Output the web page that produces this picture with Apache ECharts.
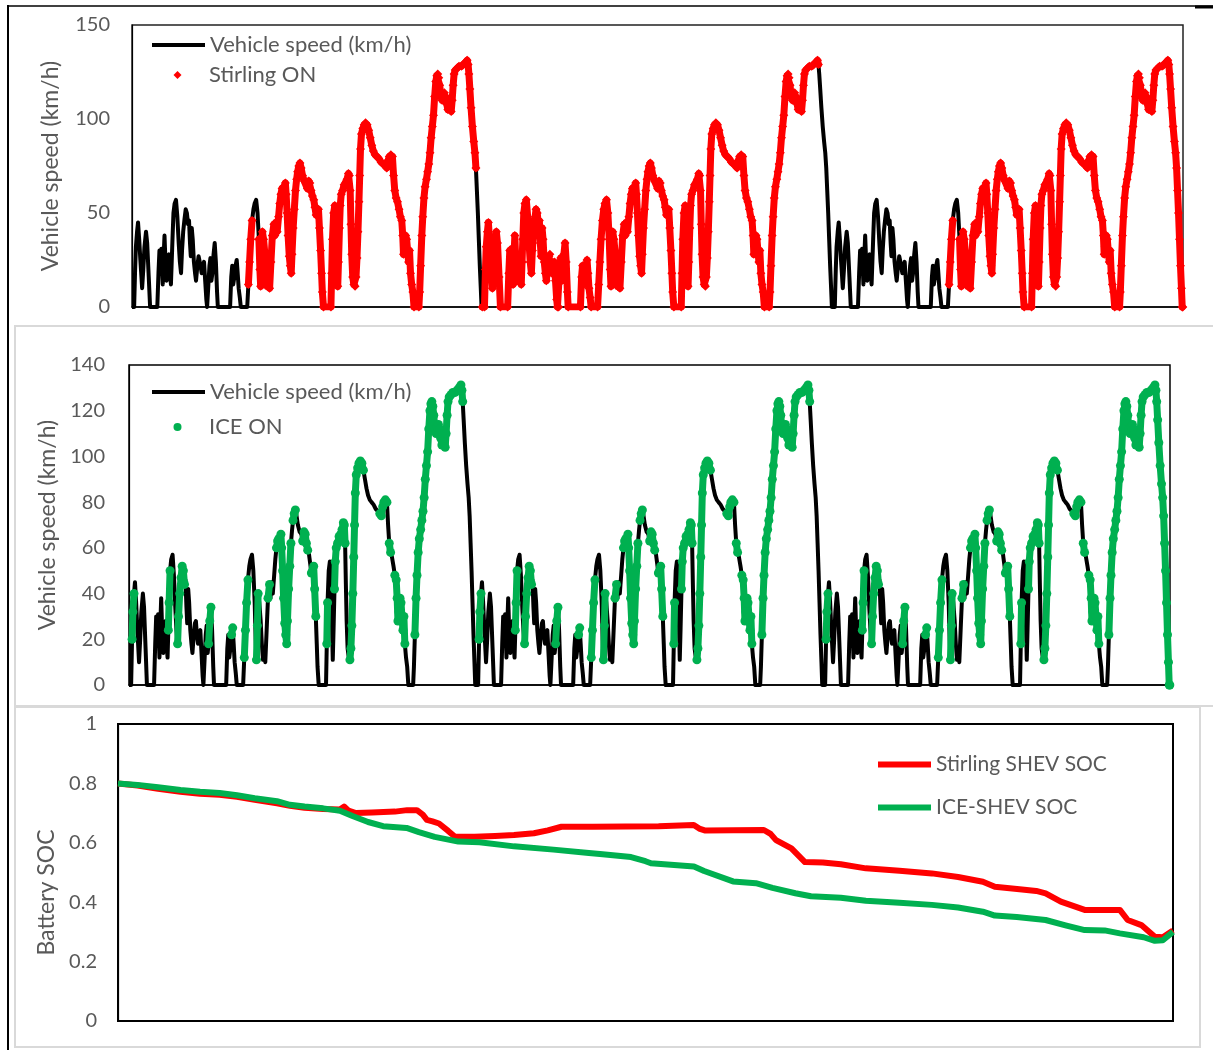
<!DOCTYPE html>
<html>
<head>
<meta charset="utf-8">
<script src="https://cdn.jsdelivr.net/npm/echarts@6/dist/echarts.min.js"></script>
<style>
  html, body { margin: 0; padding: 0; background: #ffffff; }
  #chart { width: 1213px; height: 1050px; }
</style>
</head>
<body>
<div id="chart"></div>
<script>
// One driving cycle (time in s, vehicle speed in km/h); the test repeats it three times.
const cycleSeconds = 1800;
const cycleCount = 3;
const cycleT = [
  0, 11, 16, 20, 26, 31, 37, 43, 52, 58, 64, 72, 78, 86, 93,
  130, 136, 141, 146, 151, 158, 163, 167, 172, 178, 184, 190, 195, 200, 204,
  208, 213, 219, 226, 233, 240, 246, 252, 257, 263, 270, 276, 282, 288, 293,
  298, 302, 307, 312, 318, 324, 329, 336, 342, 347, 352, 358, 364, 370, 376,
  382, 386, 392, 398, 403, 408, 413, 419, 425, 431, 437, 441,
  504, 510, 515, 520, 526, 532, 538, 543, 548, 554, 559, 592,
  598, 604, 610, 617, 624, 630, 638, 645, 652, 657, 661, 666, 670, 676, 683,
  689, 695, 701, 707, 714, 721, 729, 734, 739, 746, 753, 759, 765, 771, 777,
  783, 788, 792, 797, 802, 808, 813, 818, 822, 828, 834, 840, 846, 851, 857,
  863, 869, 876, 885, 894, 901, 908, 914, 920, 927, 934, 940, 946, 952, 958,
  963, 969, 974, 978, 984, 1022,
  1026, 1030, 1036, 1042, 1047, 1052, 1057, 1061, 1066, 1070, 1075, 1082, 1090, 1098, 1105,
  1112, 1117, 1121, 1125, 1129, 1134, 1140, 1146, 1151, 1156, 1161, 1166, 1170, 1174, 1179,
  1186, 1193, 1200, 1208, 1216, 1224, 1232, 1240, 1249, 1258, 1268, 1280, 1292, 1301, 1309,
  1316, 1322, 1330, 1338, 1344, 1350, 1357, 1364, 1372, 1379, 1386, 1391, 1395, 1400, 1406,
  1411, 1416, 1421, 1426, 1431, 1437, 1443, 1449, 1474,
  1478, 1483, 1489, 1494, 1500, 1506, 1513, 1519, 1525, 1531, 1537, 1543, 1549, 1555, 1561,
  1566, 1571, 1576, 1581, 1587, 1593, 1599, 1605, 1611, 1617, 1623, 1629, 1635, 1640, 1645,
  1650, 1655, 1661, 1670, 1680, 1692, 1702, 1712, 1722, 1727, 1731, 1736, 1742, 1749, 1756,
  1762, 1767, 1772, 1777, 1782, 1787, 1792, 1796, 1799
];
const cycleV = [
  0, 0, 20, 32, 40, 45, 36, 25, 10, 20, 32, 40, 34, 16, 0,
  0, 18, 30, 26, 31, 12, 28, 38, 24, 14, 24, 28, 18, 12, 24,
  36, 50, 55, 57, 48, 34, 24, 18, 30, 40, 47, 52, 50, 44, 46,
  34, 27, 42, 36, 24, 18, 14, 22, 27, 28, 22, 18, 22, 24, 14,
  4, 0, 0, 22, 26, 14, 18, 28, 34, 24, 8, 0,
  0, 16, 22, 12, 16, 22, 25, 18, 10, 5, 0, 0,
  12, 24, 36, 46, 52, 55, 57, 50, 36, 20, 11, 26, 40, 36, 28,
  18, 11, 16, 10, 24, 38, 44, 38, 45, 40, 48, 55, 60, 63, 64,
  62, 66, 60, 50, 38, 27, 22, 18, 28, 42, 52, 62, 68, 72, 75,
  76.6, 74, 70, 67, 66, 63, 67, 66, 62, 59, 57, 53, 49, 50, 52,
  42, 30, 18, 8, 0, 0,
  18, 36, 50, 54, 48, 30, 11, 24, 42, 54, 60, 62, 65, 66, 68,
  71, 70, 62, 44, 28, 16, 12, 11, 16, 26, 40, 56, 70, 84, 92,
  95, 97, 98, 97, 94, 90, 86, 83, 81, 80, 79, 77, 76, 75, 74,
  78, 80, 81, 80, 70, 62, 58, 56, 52, 48, 46, 38, 28, 32, 38,
  36, 30, 24, 30, 18, 12, 8, 0, 0,
  8, 22, 38, 48, 58, 64, 68, 72, 76, 82, 90, 96, 102, 112, 120,
  123, 124, 122, 118, 112, 110, 113, 114, 112, 108, 105, 110, 106, 104, 110,
  118, 124, 126, 127, 128, 128, 129, 130, 131.3, 129, 124, 116, 106, 96, 88,
  82, 74, 62, 50, 36, 22, 10, 0, 0
];

// Stirling engine running (absolute time windows, s)
const stirlingOn = [[595, 620], [649, 1767], [1800, 3528], [4195, 4220], [4249, 5400]];
// ICE running within each cycle (s from cycle start), plus the extra-high phase of each cycle
const iceOnCycle = [
  [14, 27], [203, 216], [250, 292], [413, 426], [530, 540], [596, 618], [658, 672],
  [716, 730], [760, 842], [850, 866], [900, 928], [944, 970], [1024, 1032], [1062, 1122],
  [1145, 1218], [1300, 1340], [1348, 1360], [1375, 1436]
];
const iceOnExtraHigh = [[1482, 1735], [3282, 3535], [5082, 5400]];

// Battery state of charge
const stirlingSocT = [0, 100, 205, 320, 420, 520, 609, 700, 814, 880, 955, 1050, 1136, 1157, 1180,
  1218, 1300, 1418, 1480, 1530, 1560, 1581, 1610, 1643, 1690, 1725, 1825, 1930, 2027, 2129,
  2200, 2270, 2431, 2600, 2767, 2947, 2975, 3007, 3150, 3306, 3340, 3368, 3447, 3516, 3608,
  3700, 3828, 4000, 4166, 4300, 4427, 4488, 4627, 4700, 4748, 4826, 4948, 5128, 5168, 5238,
  5307, 5348, 5400];
const stirlingSoc = [0.800, 0.793, 0.782, 0.772, 0.765, 0.762, 0.755, 0.745, 0.733, 0.725, 0.718, 0.714, 0.712, 0.722, 0.708,
  0.700, 0.702, 0.705, 0.710, 0.710, 0.695, 0.677, 0.672, 0.665, 0.640, 0.620, 0.620, 0.623, 0.626, 0.632,
  0.642, 0.654, 0.654, 0.655, 0.656, 0.660, 0.648, 0.641, 0.642, 0.643, 0.630, 0.609, 0.581, 0.535, 0.534,
  0.528, 0.514, 0.506, 0.497, 0.485, 0.469, 0.452, 0.443, 0.438, 0.430, 0.402, 0.374, 0.374, 0.340, 0.323,
  0.284, 0.282, 0.305];
const iceSocT = [0, 100, 205, 320, 420, 520, 609, 700, 814, 880, 955, 1050, 1136, 1200, 1280,
  1357, 1477, 1540, 1621, 1742, 1850, 2027, 2229, 2410, 2467, 2626, 2700, 2728, 2948, 3000,
  3148, 3265, 3350, 3467, 3547, 3700, 3828, 4000, 4166, 4300, 4427, 4488, 4600, 4748, 4850,
  4948, 5050, 5128, 5250, 5307, 5348, 5400];
const iceSoc = [0.800, 0.795, 0.787, 0.778, 0.772, 0.768, 0.760, 0.750, 0.740, 0.728, 0.722, 0.716, 0.708, 0.690, 0.670,
  0.656, 0.650, 0.636, 0.620, 0.604, 0.602, 0.588, 0.577, 0.566, 0.562, 0.552, 0.538, 0.531, 0.520, 0.505,
  0.470, 0.464, 0.448, 0.430, 0.420, 0.415, 0.405, 0.398, 0.391, 0.382, 0.368, 0.355, 0.350, 0.340, 0.322,
  0.306, 0.305, 0.295, 0.282, 0.270, 0.272, 0.300];

// Axis ticks
const speedTicksTop = { min: 0, max: 150, interval: 50 };
const speedTicksMid = { min: 0, max: 140, interval: 20 };
const socTicks = { min: 0, max: 1, interval: 0.2 };

// ---- build series data ----
const speed = [];
for (let k = 0; k < cycleCount; k++) {
  for (let i = 0; i < cycleT.length; i++) speed.push([cycleT[i] + k * cycleSeconds, cycleV[i]]);
}
const iceOn = [];
for (let k = 0; k < cycleCount; k++) {
  iceOnCycle.forEach(r => iceOn.push([r[0] + k * cycleSeconds, r[1] + k * cycleSeconds]));
}
iceOnExtraHigh.forEach(r => iceOn.push(r));

const within = (t, ranges) => ranges.some(r => t >= r[0] && t <= r[1]);
const stirlingPts = speed.map(p => within(p[0], stirlingOn) ? p : [p[0], '-']);
const icePts = speed.map(p => within(p[0], iceOn) ? p : [p[0], '-']);
const stirlingSocPts = stirlingSocT.map((t, i) => [t, stirlingSoc[i]]);
const iceSocPts = iceSocT.map((t, i) => [t, iceSoc[i]]);

const totalT = cycleSeconds * cycleCount;
const GREY = '#595959';
const FONT = 'Lato';
const tickFont = { color: GREY, fontSize: 20, fontFamily: FONT };
const nameFont = { color: GREY, fontSize: 23, fontFamily: FONT };

function xAxis(gridIndex) {
  return {
    gridIndex, type: 'value', min: 0, max: totalT,
    axisLine: { show: true, onZero: false, lineStyle: { color: '#000', width: 1.5 } },
    axisTick: { show: false }, axisLabel: { show: false }, splitLine: { show: false }
  };
}
function yAxis(gridIndex, ticks, name, margin, nameGap, namePad) {
  return {
    gridIndex, type: 'value', min: ticks.min, max: ticks.max, interval: ticks.interval,
    axisLine: { show: true, lineStyle: { color: '#000', width: 1.2 } },
    axisTick: { show: false }, splitLine: { show: false },
    axisLabel: Object.assign({ margin }, tickFont),
    name, nameLocation: 'middle', nameRotate: 90, nameGap,
    nameTextStyle: Object.assign({ padding: namePad }, nameFont)
  };
}
function legend(left, top, fontSize, item) {
  return {
    left, top, padding: 0, orient: 'vertical', itemWidth: 53, itemHeight: 10,
    textStyle: { color: GREY, fontSize, fontFamily: FONT }, data: [item], selectedMode: false
  };
}

const chart = echarts.init(document.getElementById('chart'), null, { renderer: 'canvas' });
chart.setOption({
  animation: false,
  backgroundColor: '#ffffff',
  graphic: [
    { type: 'rect', shape: { x: 15, y: 326, width: 1210, height: 380 }, style: { fill: 'none', stroke: '#d9d9d9', lineWidth: 2 }, z: -1 },
    { type: 'rect', shape: { x: 15, y: 707, width: 1185, height: 340 }, style: { fill: 'none', stroke: '#d9d9d9', lineWidth: 2 }, z: -1 },
    { type: 'line', shape: { x1: 8, y1: 6, x2: 1213, y2: 6 }, style: { stroke: '#000', lineWidth: 1.5 } },
    { type: 'line', shape: { x1: 1195, y1: 7, x2: 1213, y2: 7 }, style: { stroke: '#000', lineWidth: 3 } },
    { type: 'line', shape: { x1: 8, y1: 5, x2: 8, y2: 1050 }, style: { stroke: '#000', lineWidth: 2 } }
  ],
  grid: [
    { left: 132, top: 25, width: 1051, height: 282, show: true, borderColor: '#222', borderWidth: 1.5 },
    { left: 129, top: 365, width: 1041, height: 320, show: true, borderColor: '#000', borderWidth: 1.5 },
    { left: 118, top: 724, width: 1055, height: 297, show: true, borderColor: '#000', borderWidth: 2 }
  ],
  xAxis: [xAxis(0), xAxis(1), xAxis(2)],
  yAxis: [
    yAxis(0, speedTicksTop, 'Vehicle speed (km/h)', 22, 70, [0, 0, 0, 0]),
    yAxis(1, speedTicksMid, 'Vehicle speed (km/h)', 24, 70, [0, 0, 0, 0]),
    yAxis(2, socTicks, 'Battery SOC', 21, 58, [0, 40, 0, 0])
  ],
  legend: [
    legend(150, 34, 22, { name: 'Vehicle speed (km/h)', itemStyle: { opacity: 0 }, lineStyle: { width: 4, color: '#000' } }),
    legend(150, 64, 22, { name: 'Stirling ON', lineStyle: { opacity: 0 } }),
    legend(150, 381, 22, { name: 'Vehicle speed (km/h)', itemStyle: { opacity: 0 }, lineStyle: { width: 4, color: '#000' } }),
    legend(150, 416, 22, { name: 'ICE ON', lineStyle: { opacity: 0 } }),
    legend(875, 754, 21, { name: 'Stirling SHEV SOC', itemStyle: { opacity: 0 }, lineStyle: { width: 6, color: '#ff0000' } }),
    legend(875, 797, 21, { name: 'ICE-SHEV SOC', itemStyle: { opacity: 0 }, lineStyle: { width: 6, color: '#00b050' } })
  ],
  series: [
    {
      name: 'Vehicle speed (km/h)', type: 'line', xAxisIndex: 0, yAxisIndex: 0, data: speed,
      symbol: 'none', color: '#000', lineStyle: { color: '#000', width: 4, join: 'round' }, z: 2
    },
    {
      name: 'Stirling ON', type: 'line', xAxisIndex: 0, yAxisIndex: 0, data: stirlingPts,
      symbol: 'diamond', symbolSize: 9, showSymbol: true, showAllSymbol: true, color: '#ff0000',
      itemStyle: { color: '#ff0000' }, lineStyle: { color: '#ff0000', width: 7, join: 'round', cap: 'round' }, z: 3
    },
    {
      name: 'Vehicle speed (km/h)', type: 'line', xAxisIndex: 1, yAxisIndex: 1, data: speed,
      symbol: 'none', color: '#000', lineStyle: { color: '#000', width: 4, join: 'round' }, z: 2
    },
    {
      name: 'ICE ON', type: 'line', xAxisIndex: 1, yAxisIndex: 1, data: icePts,
      symbol: 'circle', symbolSize: 9, showSymbol: true, showAllSymbol: true, color: '#00b050',
      itemStyle: { color: '#00b050' }, lineStyle: { color: '#00b050', width: 7, join: 'round', cap: 'round' }, z: 3
    },
    {
      name: 'Stirling SHEV SOC', type: 'line', xAxisIndex: 2, yAxisIndex: 2, data: stirlingSocPts,
      symbol: 'none', color: '#ff0000', lineStyle: { color: '#ff0000', width: 6, join: 'round' }, z: 2
    },
    {
      name: 'ICE-SHEV SOC', type: 'line', xAxisIndex: 2, yAxisIndex: 2, data: iceSocPts,
      symbol: 'none', color: '#00b050', lineStyle: { color: '#00b050', width: 6, join: 'round' }, z: 3
    }
  ]
});
</script>
</body>
</html>
